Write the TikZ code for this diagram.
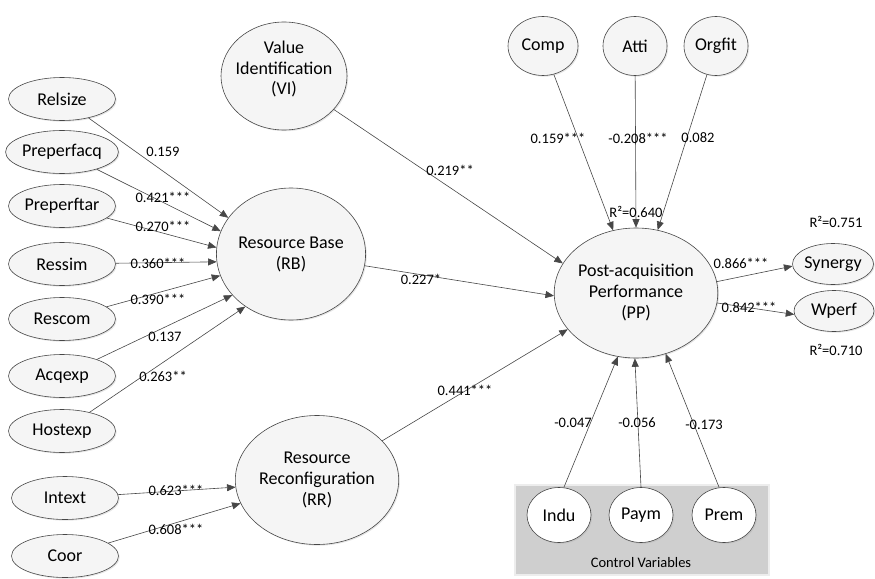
\documentclass[tikz,border=0pt]{standalone}
\usepackage{fontspec}
\setmainfont{Carlito}
\usetikzlibrary{shapes.geometric,arrows.meta,shadows}
\begin{document}
\begin{tikzpicture}[x=1pt,y=-1pt,
  lv/.style={ellipse, draw=black!72, line width=0.6pt, fill=black!4, inner sep=0pt,
    align=center, font=\fontsize{18}{21}\selectfont,
    drop shadow={shadow xshift=1.2pt, shadow yshift=-1.2pt, opacity=0.25, fill=black!40}},
  ind/.style={lv, minimum width=107pt, minimum height=43pt},
  big/.style={lv, minimum width=142pt, minimum height=130pt},
  top/.style={lv, minimum height=59pt},
  ctrl/.style={lv, fill=white, minimum width=64pt, minimum height=55pt},
  outv/.style={lv, minimum width=80pt, minimum height=41pt},
  lab/.style={inner sep=0pt, font=\fontsize{14.5}{17}\selectfont},
  arr/.style={draw=black!72, line width=0.6pt, -{Triangle[length=8.5pt,width=7pt]}}
]
\useasboundingbox (0,0) rectangle (875,578);

% control variables panel
\node[draw=black!7, line width=1.2pt, fill=black!19, minimum width=254pt, minimum height=90pt,
  inner sep=0pt, drop shadow={shadow xshift=1pt, shadow yshift=-1pt, opacity=0.2, fill=black!40}]
  (panel) at (642,530) {};
\node[lab] (cvlab) at (641,563) {Control Variables};

% indicator constructs on the left
\node[ind] (relsize)    at (62,99)  {Relsize};
\node[ind] (preperfacq) at (62,152) {Preperfacq};
\node[ind] (preperftar) at (62,206) {Preperftar};
\node[ind] (ressim)     at (62,264) {Ressim};
\node[ind] (rescom)     at (62,319) {Rescom};
\node[ind] (acqexp)     at (62,376) {Acqexp};
\node[ind] (hostexp)    at (62,431) {Hostexp};
\node[ind] (intext)     at (65,498) {Intext};
\node[ind] (coor)       at (65,556) {Coor};

% latent constructs
\node[lv, minimum width=126pt, minimum height=108pt] (vi) at (284,76) {};
\node[inner sep=0pt, align=center, font=\fontsize{18}{20.5}\selectfont] (vitext) at (284,69)
  {Value\\Identification\\(VI)};
\node[lv, minimum width=142pt, minimum height=132pt] (rb) at (291,254) {Resource Base\\(RB)};
\node[lv, minimum width=141pt, minimum height=129pt] (rr) at (317,480) {Resource\\Reconfiguration\\(RR)};
\node[big] (pp) at (636,293) {Post-acquisition\\Performance\\(PP)};

\node[top, minimum width=70pt] (comp)   at (543,46) {Comp};
\node[top, minimum width=64pt] (atti)   at (635,46) {Atti};
\node[top, minimum width=64pt] (orgfit) at (716,46) {Orgfit};

\node[outv] (syn)   at (833,264) {Synergy};
\node[outv] (wperf) at (834,311) {Wperf};

\node[ctrl] (indu) at (559,515) {Indu};
\node[ctrl] (paym) at (641,515) {Paym};
\node[ctrl] (prem) at (724,515) {Prem};

% paths into the resource base
\draw[arr] (relsize)    -- (rb.150);
\draw[arr] (preperfacq) -- (rb.162);
\draw[arr] (preperftar) -- (rb.175);
\draw[arr] (ressim)     -- (rb.186);
\draw[arr] (rescom)     -- (rb.197);
\draw[arr] (acqexp)     -- (rb.215);
\draw[arr] (hostexp)    -- (rb.229);

% paths into resource reconfiguration
\draw[arr] (intext) -- (rr.185);
\draw[arr] (coor)   -- (rr.197);

% paths into post-acquisition performance
\draw[arr] (vi) -- (pp.158);
\draw[arr] (rb) -- (pp.182);
\draw[arr] (rr) -- (pp.208);
\draw[arr] (comp)   -- (pp.110);
\draw[arr] (atti)   -- (pp.90);
\draw[arr] (orgfit) -- (pp.71);
\draw[arr] (indu.80)  -- (pp.254);
\draw[arr] (paym.north) -- (pp.269);
\draw[arr] (prem.100) -- (pp.296);

% outcomes
\draw[arr] (pp.8)   -- (syn.183);
\draw[arr] (pp.353) -- (wperf.185);

% path coefficients
\node[lab] (c1) at (163,152) {0.159};
\node[lab] (c2) at (163,197) {0.421***};
\node[lab] (c3) at (163,226) {0.270***};
\node[lab] (c4) at (158,263) {0.360***};
\node[lab] (c5) at (158,299) {0.390***};
\node[lab] (c6) at (165,337) {0.137};
\node[lab] (c7) at (163,376) {0.263**};
\node[lab] (c8) at (176,490) {0.623***};
\node[lab] (c9) at (176,529) {0.608***};
\node[lab] (c10) at (450,170) {0.219**};
\node[lab] (c11) at (421,279) {0.227*};
\node[lab] (c12) at (465,390) {0.441***};
\node[lab] (c13) at (558,138) {0.159***};
\node[lab] (c14) at (638,138) {-0.208***};
\node[lab] (c15) at (698,138) {0.082};
\node[lab] (c16) at (741,263) {0.866***};
\node[lab] (c17) at (749,307) {0.842***};
\node[lab] (c18) at (573,423) {-0.047};
\node[lab] (c19) at (637,423) {-0.056};
\node[lab] (c20) at (704,425) {-0.173};

% explained variance
\node[lab] (r1) at (636,212) {R²=0.640};
\node[lab] (r2) at (836,222) {R²=0.751};
\node[lab] (r3) at (836,350) {R²=0.710};
\end{tikzpicture}
\end{document}
